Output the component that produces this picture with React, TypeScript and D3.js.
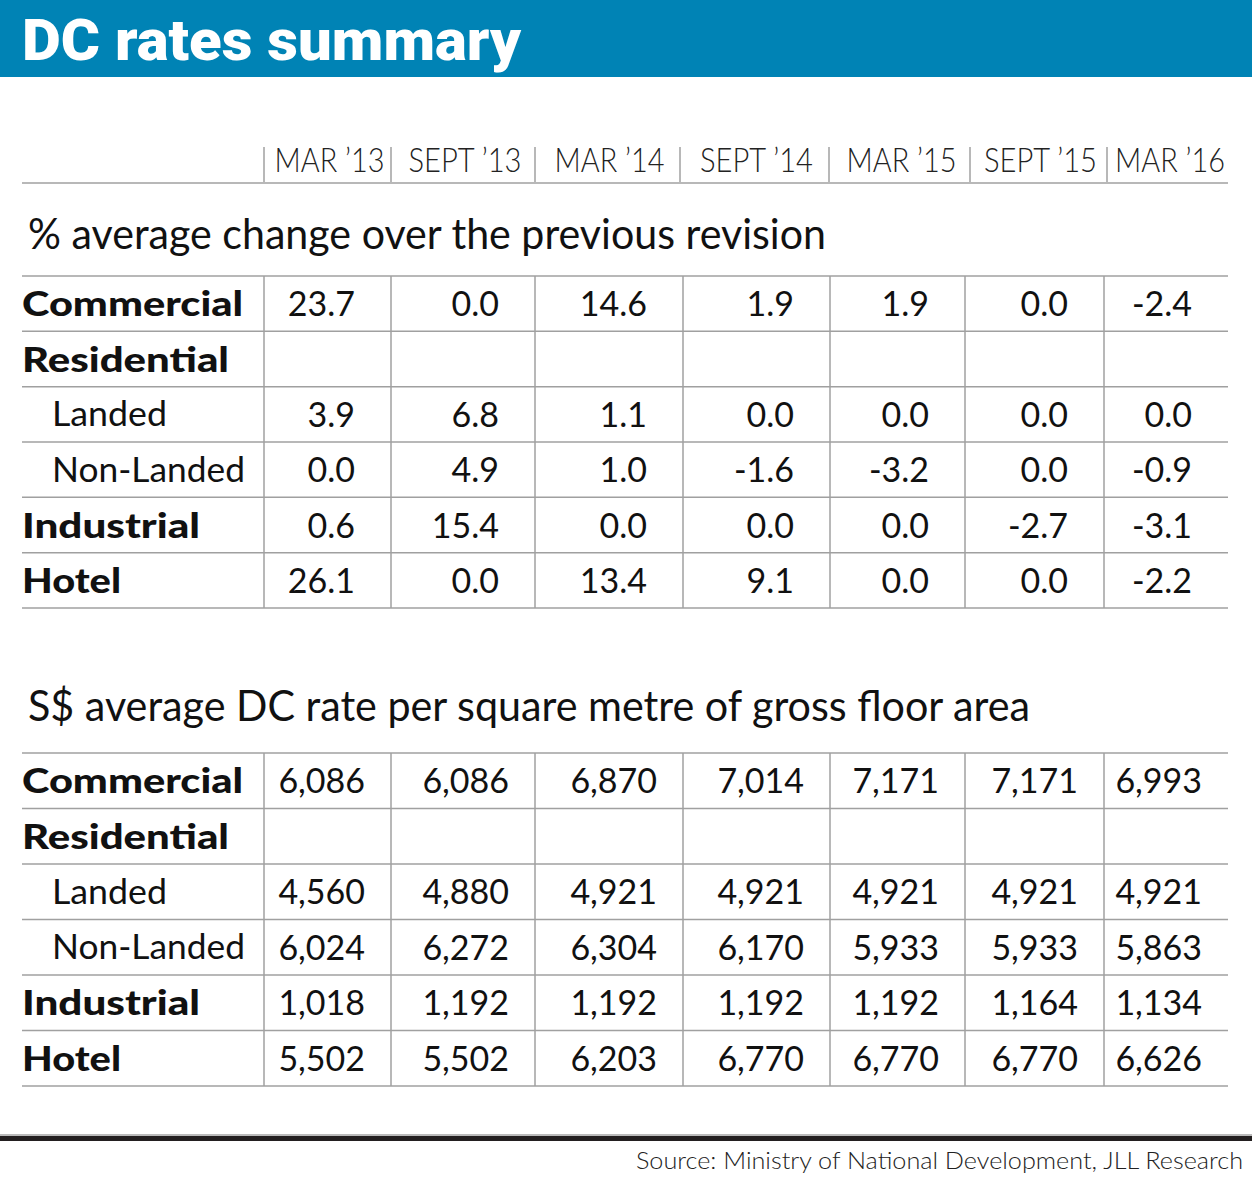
import React from "react";
import * as d3 from "d3";

// ---------- data ----------
const periods = ["MAR ’13", "SEPT ’13", "MAR ’14", "SEPT ’14", "MAR ’15", "SEPT ’15", "MAR ’16"];
const rowLabels = ["Commercial", "Residential", "Landed", "Non-Landed", "Industrial", "Hotel"];

const pctCommercial = [23.7, 0.0, 14.6, 1.9, 1.9, 0.0, -2.4];
const pctLanded = [3.9, 6.8, 1.1, 0.0, 0.0, 0.0, 0.0];
const pctNonLanded = [0.0, 4.9, 1.0, -1.6, -3.2, 0.0, -0.9];
const pctIndustrial = [0.6, 15.4, 0.0, 0.0, 0.0, -2.7, -3.1];
const pctHotel = [26.1, 0.0, 13.4, 9.1, 0.0, 0.0, -2.2];

const rateCommercial = [6086, 6086, 6870, 7014, 7171, 7171, 6993];
const rateLanded = [4560, 4880, 4921, 4921, 4921, 4921, 4921];
const rateNonLanded = [6024, 6272, 6304, 6170, 5933, 5933, 5863];
const rateIndustrial = [1018, 1192, 1192, 1192, 1192, 1164, 1134];
const rateHotel = [5502, 5502, 6203, 6770, 6770, 6770, 6626];

const title = "DC rates summary";
const section1Title = "% average change over the previous revision";
const section2Title = "S$ average DC rate per square metre of gross floor area";
const source = "Source: Ministry of National Development, JLL Research";

// ---------- layout ----------
const W = 1252;
const H = 1180;
const BLUE = "#0083b5";
const GRID = "#a0a0a0";
const bodyEdges = [264, 391, 535, 683, 830, 965, 1104, 1228];
const headerEdges = [264, 391, 535, 680, 829, 970, 1107, 1229];
const tableLeft = 22;
const tableRight = 1228;

const boldLabels = new Set(["Commercial", "Residential", "Industrial", "Hotel"]);
const labelWidths: Record<string, number> = {
  Commercial: 221,
  Residential: 207,
  Landed: 115,
  "Non-Landed": 193,
  Industrial: 178,
  Hotel: 99,
};

const locale = d3.formatLocale({
  decimal: ".",
  thousands: ",",
  grouping: [3],
  currency: ["$", ""],
  minus: "-",
});
const fmtPct = locale.format(".1f");
const fmtRate = locale.format(",");

const LIGHT = "Lato, 'Open Sans', sans-serif";
const BOLD = "Lato, 'DejaVu Sans', sans-serif";

function Section({
  top,
  bottom,
  rows,
  fmt,
  rightPad,
}: {
  top: number;
  bottom: number;
  rows: (number[] | null)[];
  fmt: (v: number) => string;
  rightPad: number;
}) {
  const y = d3.scaleBand<string>().domain(rowLabels).range([top, bottom]);
  const colIdx = d3.range(periods.length);
  const lines = [top, ...rowLabels.map((r) => (y(r) as number) + y.bandwidth())];
  return (
    <g>
      {lines.map((ly, i) => (
        <line key={"h" + i} x1={tableLeft} x2={tableRight} y1={ly} y2={ly} stroke={GRID} strokeWidth={1.5} />
      ))}
      {bodyEdges.slice(0, periods.length).map((x, i) => (
        <line key={"v" + i} x1={x} x2={x} y1={top} y2={bottom} stroke={GRID} strokeWidth={1.5} />
      ))}
      {rowLabels.map((r) => {
        const cy = (y(r) as number) + y.bandwidth() / 2;
        const bold = boldLabels.has(r);
        return (
          <text
            key={"l" + r}
            x={bold ? tableLeft : 52}
            y={cy + (bold ? 12.5 : 12)}
            fontFamily={bold ? BOLD : LIGHT}
            fontWeight={bold ? 900 : 400}
            fontSize={bold ? 35 : 34}
            fill="#111"
            textLength={labelWidths[r]}
            lengthAdjust="spacingAndGlyphs"
          >
            {r}
          </text>
        );
      })}
      {rowLabels.map((r, ri) => {
        const vals = rows[ri];
        if (!vals) return null;
        const cy = (y(r) as number) + y.bandwidth() / 2;
        return colIdx.map((c) => (
          <text
            key={"v" + r + c}
            x={bodyEdges[c + 1] - rightPad}
            y={cy + 12.5}
            textAnchor="end"
            fontFamily={LIGHT}
            fontWeight={400}
            fontSize={34}
            fill="#111"
          >
            {fmt(vals[c])}
          </text>
        ));
      })}
    </g>
  );
}

export default function App() {
  return (
    <svg
      width={W}
      height={H}
      viewBox={`0 0 ${W} ${H}`}
      style={{ position: "absolute", left: 0, top: 0, background: "#fff" }}
    >
      <rect x={0} y={0} width={W} height={77} fill={BLUE} />
      <text
        x={22}
        y={60}
        fill="#fff"
        fontFamily="Roboto, 'Liberation Sans', sans-serif"
        fontWeight={900}
        fontSize={58}
        textLength={499}
        lengthAdjust="spacingAndGlyphs"
      >
        {title}
      </text>

      {/* header */}
      {headerEdges.slice(0, periods.length).map((x, i) => (
        <line key={"hs" + i} x1={x} x2={x} y1={147} y2={182} stroke={GRID} strokeWidth={1.5} />
      ))}
      <line x1={tableLeft} x2={tableRight} y1={183} y2={183} stroke={GRID} strokeWidth={1.5} />
      {periods.map((p, i) => (
        <text
          key={p}
          x={(headerEdges[i] + headerEdges[i + 1]) / 2 + 2}
          y={172}
          textAnchor="middle"
          fontFamily={LIGHT}
          fontWeight={300}
          fontSize={34}
          fill="#222"
          textLength={p.startsWith("SEPT") ? 113 : 110}
          lengthAdjust="spacingAndGlyphs"
        >
          {p}
        </text>
      ))}

      <text
        x={28}
        y={249}
        fontFamily={LIGHT}
        fontWeight={400}
        fontSize={42}
        fill="#111"
        textLength={798}
        lengthAdjust="spacingAndGlyphs"
      >
        {section1Title}
      </text>
      <Section
        top={276}
        bottom={608}
        rows={[pctCommercial, null, pctLanded, pctNonLanded, pctIndustrial, pctHotel]}
        fmt={fmtPct}
        rightPad={36}
      />

      <text
        x={28}
        y={721}
        fontFamily={LIGHT}
        fontWeight={400}
        fontSize={42}
        fill="#111"
        textLength={1002}
        lengthAdjust="spacingAndGlyphs"
      >
        {section2Title}
      </text>
      <Section
        top={753}
        bottom={1086}
        rows={[rateCommercial, null, rateLanded, rateNonLanded, rateIndustrial, rateHotel]}
        fmt={fmtRate}
        rightPad={26}
      />

      <rect x={0} y={1134} width={W} height={2} fill="#bbb" />
      <rect x={0} y={1136} width={W} height={5} fill="#231f20" />
      <text
        x={1243}
        y={1169}
        textAnchor="end"
        fontFamily={LIGHT}
        fontWeight={300}
        fontSize={24}
        fill="#222"
        textLength={607}
        lengthAdjust="spacingAndGlyphs"
      >
        {source}
      </text>
    </svg>
  );
}
